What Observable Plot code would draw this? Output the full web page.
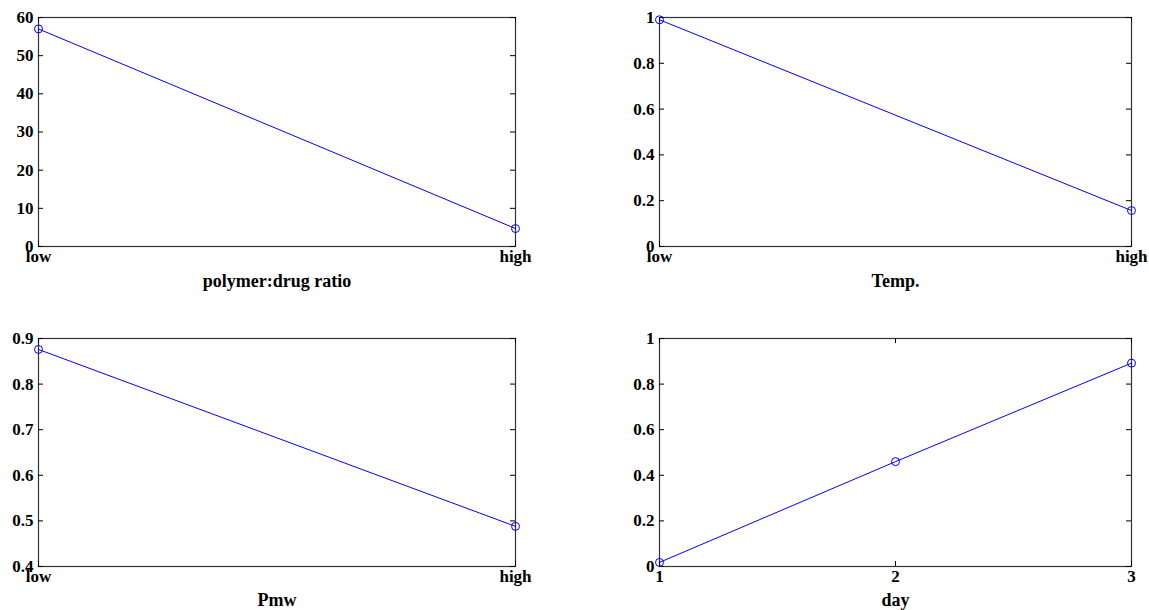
<!DOCTYPE html>
<html><head><meta charset="utf-8">
<script src="https://cdn.jsdelivr.net/npm/d3@7"></script>
<script src="https://cdn.jsdelivr.net/npm/@observablehq/plot@0.6"></script>
<style>
body{margin:0;background:#fff;}
#wrap{position:relative;width:1149px;height:610px;overflow:hidden;}
.panel{position:absolute;}
</style></head><body><div id="wrap"></div>
<script>
const levels = ["low", "high"];
const ratioValues = [57, 4.7];
const tempValues = [0.99, 0.157];
const pmwValues = [0.876, 0.488];
const days = [1, 2, 3];
const dayValues = [0.018, 0.46, 0.892];
const ratioTicks = [0, 10, 20, 30, 40, 50, 60];
const fracTicks = [0, 0.2, 0.4, 0.6, 0.8, 1];
const pmwTicks = [0.4, 0.5, 0.6, 0.7, 0.8, 0.9];
const xLabels = ["polymer:drug ratio", "Temp.", "Pmw", "day"];

function panel(cfg) {
  const innerW = cfg.width - cfg.ml - cfg.mr;
  const innerH = cfg.height - cfg.mt - cfg.mb;
  const pts = cfg.xs.map((x, i) => ({x, y: cfg.ys[i]}));
  const chart = Plot.plot({
    width: cfg.width, height: cfg.height,
    marginLeft: cfg.ml, marginRight: cfg.mr, marginTop: cfg.mt, marginBottom: cfg.mb,
    style: {fontFamily: "'Liberation Serif', 'Times New Roman', serif", fontSize: "17px", fontWeight: "bold", color: "black", background: "white"},
    x: cfg.xScale,
    y: {domain: cfg.yDomain, label: null},
    marks: [
      Plot.frame({stroke: "#333", strokeWidth: 1.2}),
      Plot.tickY(cfg.yTicks, {insetRight: innerW - 5, stroke: "black"}),
      Plot.tickY(cfg.yTicks, {insetLeft: innerW - 5, stroke: "black"}),
      Plot.tickX(cfg.xTicks, {insetTop: innerH - 5, stroke: "black"}),
      Plot.tickX(cfg.xTicks, {insetBottom: innerH - 5, stroke: "black"}),
      Plot.axisY({ticks: cfg.yTicks, tickSize: 0, tickPadding: 5, tickFormat: d => `${d}`, label: null}),
      Plot.axisX({ticks: cfg.xTicks, tickSize: 0, tickPadding: 3, tickFormat: d => `${d}`, label: null}),
      Plot.line(pts, {x: "x", y: "y", stroke: "#0000ff", strokeWidth: 1}),
      Plot.dot(pts, {x: "x", y: "y", r: 4, stroke: "#0000ff", fill: "none", strokeWidth: 1}),
      Plot.text([cfg.label], {text: d => d, frameAnchor: "bottom", dy: cfg.labelDy, lineAnchor: "middle", fontSize: 18})
    ]
  });
  chart.classList.add("panel");
  chart.style.left = cfg.left + "px";
  chart.style.top = cfg.top + "px";
  document.getElementById("wrap").appendChild(chart);
}

const catScale = {type: "point", domain: levels, padding: 0, label: null};

panel({left: 0, top: 0, width: 575, height: 305, ml: 38, mr: 60, mt: 17, mb: 59,
  xScale: catScale, xs: levels, ys: ratioValues, xTicks: levels,
  yDomain: [0, 60], yTicks: ratioTicks, label: xLabels[0], labelDy: 35});
panel({left: 575, top: 0, width: 574, height: 305, ml: 84, mr: 18, mt: 17, mb: 59,
  xScale: catScale, xs: levels, ys: tempValues, xTicks: levels,
  yDomain: [0, 1], yTicks: fracTicks, label: xLabels[1], labelDy: 35});
panel({left: 0, top: 305, width: 575, height: 305, ml: 38, mr: 60, mt: 33, mb: 44,
  xScale: catScale, xs: levels, ys: pmwValues, xTicks: levels,
  yDomain: [0.4, 0.9], yTicks: pmwTicks, label: xLabels[2], labelDy: 34});
panel({left: 575, top: 305, width: 574, height: 305, ml: 84, mr: 18, mt: 33, mb: 44,
  xScale: {type: "linear", domain: [1, 3], label: null}, xs: days, ys: dayValues, xTicks: days,
  yDomain: [0, 1], yTicks: fracTicks, label: xLabels[3], labelDy: 34});
</script>
</body></html>
